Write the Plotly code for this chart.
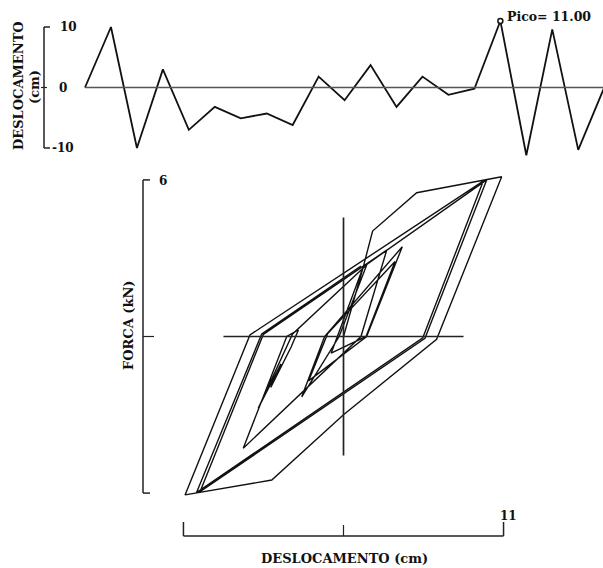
import plotly.graph_objects as go

# ---------------- data ----------------
# top chart: displacement history (cm) at each step
steps = list(range(21))
displacement = [0, 10, -10, 3.0, -7.0, -3.2, -5.1, -4.3, -6.2, 1.8, -2.1,
                3.7, -3.2, 1.8, -1.2, -0.2, 11.0, -11.2, 9.6, -10.3, 0.0]
top_tick_values = [10, 0, -10]

# bottom chart: force (kN) vs displacement (cm) hysteresis path
hyst_disp = [0.0, 1.36, 9.84, 5.6, -9.86, -5.51, 2.97, 1.2, -6.89, -3.9, -3.1,
             -3.6, -5.0, -4.3, -5.86, -3.5, 1.6, -0.3, -2.87, -1.3, 4.04,
             1.59, -2.4, -1.1, 3.54, 1.55, -0.85, -0.2, 1.36, 2.0, 5.03,
             10.87, 6.4, 0.0, -4.93, -10.89, -6.43, 9.6, 5.45, -10.1, -5.62, 1.2]
hyst_force = [0.0, 2.67, 6.0, -0.07, -5.95, 0.08, 3.31, 0.0, -4.28, 0.0, 0.25,
              -0.4, -1.95, -1.05, -2.75, 0.1, 2.75, 0.0, -2.31, 0.0, 3.44,
              0.0, -1.7, 0.1, 2.87, 0.0, -0.64, 0.35, 2.67, 4.04, 5.51,
              6.12, -0.11, -3.0, -5.5, -6.07, 0.06, 5.95, -0.05, -5.98, 0.1, 2.7]
force_max = 6
disp_max = 11

# ---------------- geometry (pixels) ----------------
W, H = 603, 568
SPLIT = 160  # pixel row separating the two panels

# top panel mapping: px = X0 + DX*step ; py = Y0 - DY*value
T_X0, T_DX, T_Y0, T_DY = 85.0, 25.96, 87.5, 6.05
# bottom panel mapping: px = B_X0 + B_DX*d ; py = B_Y0 - B_DY*F
B_X0, B_DX, B_Y0, B_DY = 343.5, 14.55, 336.5, 26.1

top_xrange = [(0 - T_X0) / T_DX, (W - T_X0) / T_DX]
top_yrange = [(T_Y0 - SPLIT) / T_DY, T_Y0 / T_DY]
bot_xrange = [(0 - B_X0) / B_DX, (W - B_X0) / B_DX]
bot_yrange = [(B_Y0 - H) / B_DY, (B_Y0 - SPLIT) / B_DY]

def px(x):
    return x / W

def py(y):
    return 1 - y / H

FONT = "DejaVu Serif"
BLACK = "#111111"

fig = go.Figure()

# top displacement history
fig.add_trace(go.Scatter(x=steps, y=displacement, mode="lines",
                         line=dict(color=BLACK, width=1.8),
                         xaxis="x", yaxis="y", showlegend=False))
peak_val = max(displacement)
peak_idx = displacement.index(peak_val)
fig.add_trace(go.Scatter(x=[steps[peak_idx]], y=[peak_val], mode="markers",
                         marker=dict(size=5, color="white",
                                     line=dict(color=BLACK, width=1.5)),
                         xaxis="x", yaxis="y", showlegend=False))

# hysteresis
fig.add_trace(go.Scatter(x=hyst_disp, y=hyst_force, mode="lines",
                         line=dict(color=BLACK, width=1.4),
                         xaxis="x2", yaxis="y2", showlegend=False))

shapes = []
LC = "#222222"
# top zero line
shapes.append(dict(type="line", xref="x", yref="y", x0=steps[0], x1=steps[-1],
                   y0=0, y1=0, line=dict(color="#555555", width=1.6)))
# top left bracket
bx = (44 - T_X0) / T_DX
tk = 6 / T_DX
shapes.append(dict(type="line", xref="x", yref="y", x0=bx, x1=bx,
                   y0=top_tick_values[-1], y1=top_tick_values[0],
                   line=dict(color=LC, width=1.5)))
shapes.append(dict(type="line", xref="x", yref="y", x0=bx, x1=bx + tk,
                   y0=top_tick_values[0], y1=top_tick_values[0], line=dict(color=LC, width=1.5)))
shapes.append(dict(type="line", xref="x", yref="y", x0=bx, x1=bx + tk,
                   y0=top_tick_values[-1], y1=top_tick_values[-1], line=dict(color=LC, width=1.5)))
shapes.append(dict(type="line", xref="x", yref="y", x0=bx - 3 / T_DX, x1=bx + 3 / T_DX,
                   y0=0, y1=0, line=dict(color=LC, width=1.2)))

# bottom crosshair (75% of axis ranges)
shapes.append(dict(type="line", xref="x2", yref="y2", x0=-0.75 * disp_max, x1=0.75 * disp_max,
                   y0=0, y1=0, line=dict(color=LC, width=1.5)))
shapes.append(dict(type="line", xref="x2", yref="y2", x0=0, x1=0,
                   y0=-0.76 * force_max, y1=0.76 * force_max, line=dict(color=LC, width=1.7)))

# bottom left bracket (force axis)
fx = (143 - B_X0) / B_DX
shapes.append(dict(type="line", xref="x2", yref="y2", x0=fx, x1=fx,
                   y0=-force_max, y1=force_max, line=dict(color=LC, width=1.5)))
for fv in (force_max, -force_max):
    shapes.append(dict(type="line", xref="x2", yref="y2", x0=fx, x1=fx + 7 / B_DX,
                       y0=fv, y1=fv, line=dict(color=LC, width=1.5)))
shapes.append(dict(type="line", xref="x2", yref="y2", x0=fx, x1=fx + 11 / B_DX,
                   y0=0, y1=0, line=dict(color=LC, width=1.2)))

# bottom x bracket (displacement axis)
by = (B_Y0 - 536) / B_DY
shapes.append(dict(type="line", xref="x2", yref="y2", x0=-disp_max, x1=disp_max,
                   y0=by, y1=by, line=dict(color=LC, width=1.5)))
for dv in (-disp_max, disp_max):
    shapes.append(dict(type="line", xref="x2", yref="y2", x0=dv, x1=dv,
                       y0=by, y1=by + 14 / B_DY, line=dict(color=LC, width=1.5)))
shapes.append(dict(type="line", xref="x2", yref="y2", x0=0, x1=0,
                   y0=by, y1=by + 11 / B_DY, line=dict(color=LC, width=1.2)))

bold = dict(family=FONT, color=BLACK, weight="bold")
ann = []
def add_text(text, x, y, size, angle=0, xanchor="center"):
    ann.append(dict(text=text, x=px(x), y=py(y), xref="paper", yref="paper",
                    showarrow=False, textangle=angle, xanchor=xanchor, yanchor="middle",
                    font=dict(size=size, **bold)))

add_text("DESLOCAMENTO", 18, 86, 13, -90)
add_text("(cm)", 35, 87, 13, -90)
add_text(str(top_tick_values[0]), 68, 27, 12)
add_text(str(top_tick_values[1]), 63, 88, 12)
add_text(str(top_tick_values[2]), 63, 148, 12)
add_text("FORCA (kN)", 128, 325, 13, -90)
add_text(str(force_max), 163, 181, 12)
add_text(str(disp_max), 508, 516, 12)
add_text("DESLOCAMENTO (cm)", 345, 558, 13)

ann.append(dict(text=f"Pico= {peak_val:.2f}", x=steps[peak_idx], y=peak_val,
                xref="x", yref="y", showarrow=False, xanchor="left", yanchor="middle",
                xshift=5, yshift=4, font=dict(size=12.5, **bold)))

hidden = dict(visible=False, showgrid=False, zeroline=False, fixedrange=True)
fig.update_layout(
    width=W, height=H,
    margin=dict(l=0, r=0, t=0, b=0, pad=0),
    paper_bgcolor="white", plot_bgcolor="rgba(0,0,0,0)",
    xaxis=dict(domain=[0, 1], range=top_xrange, anchor="y", **hidden),
    yaxis=dict(domain=[1 - SPLIT / H, 1], range=top_yrange, anchor="x", **hidden),
    xaxis2=dict(domain=[0, 1], range=bot_xrange, anchor="y2", **hidden),
    yaxis2=dict(domain=[0, 1 - SPLIT / H], range=bot_yrange, anchor="x2", **hidden),
    shapes=shapes,
    annotations=ann,
    showlegend=False,
)

fig.write_html("out.html", config={"displayModeBar": False},
               post_script="document.body.style.margin='0';")
